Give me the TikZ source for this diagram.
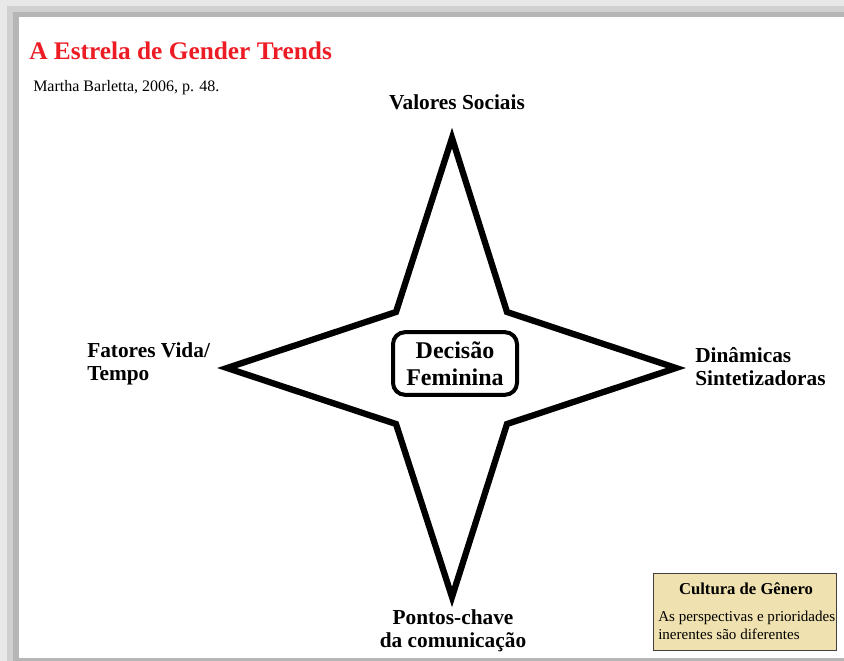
\documentclass[tikz,border=0pt]{standalone}
\usepackage{fontspec}
\setmainfont{Liberation Serif}
\definecolor{titlered}{RGB}{237,28,36}
\definecolor{legendfill}{RGB}{240,226,176}
\definecolor{frameA}{RGB}{232,232,232}
\definecolor{frameB}{RGB}{208,208,208}
\definecolor{frameC}{RGB}{182,182,182}

\begin{document}
\begin{tikzpicture}
	[
		x=0.75pt, y=-0.75pt,
		arm/.style={font=\bfseries\fontsize{16}{17.25}\selectfont, inner sep=0pt},
		hub/.style={draw, line width=3pt, rounded corners=9pt, align=center, minimum width=93pt, minimum height=47pt, inner sep=0pt, fill=white, font=\bfseries\fontsize{18}{20.25}\selectfont},
		legend/.style={draw=black!75, fill=legendfill, line width=0.75pt, minimum width=137.25pt, minimum height=57.75pt, inner sep=0pt},
		small/.style={inner sep=0pt, font=\fontsize{11.3}{13.5}\selectfont}
	]

	\useasboundingbox (0,0) rectangle (844,661);

	% page and its shadow
	\fill[frameA] (0,0) rectangle (844,661);
	\fill[frameB] (7,6) rectangle (844,661);
	\fill[frameC] (13,12) rectangle (844,661);
	\fill[white] (19,17) rectangle (844,658);

	\node
	[anchor=base west, inner sep=0pt, text=titlered, font=\bfseries\fontsize{19}{22}\selectfont]
	(titulo) at (29,59)
	{A Estrela de Gender Trends};

	\node
	[anchor=base west, inner sep=0pt, font=\fontsize{12}{14}\selectfont]
	(fonte) at (33,91)
	{Martha Barletta, 2006, p. 48.};

	% the star
	\coordinate (top) at (452,138);
	\coordinate (right) at (676,368);
	\coordinate (bottom) at (452,597);
	\coordinate (left) at (227,368);
	\coordinate (ur) at (507,312);
	\coordinate (lr) at (507,424);
	\coordinate (ll) at (396,424);
	\coordinate (ul) at (396,312);

	\draw[line width=4.7pt]
		(top) -- (ur) -- (right) -- (lr) -- (bottom) -- (ll) -- (left) -- (ul) -- cycle;

	\node
	[hub]
	(decisao) at (455,363.5)
	{Decisão\\Feminina};

	\node
	[arm, anchor=base]
	(valores) at (457,109)
	{Valores Sociais};

	\node
	[arm, anchor=west, align=left]
	(fatores) at (87,364)
	{Fatores Vida/\\Tempo};

	\node
	[arm, anchor=west, align=left]
	(dinamicas) at (695,367)
	{Dinâmicas\\Sintetizadoras};

	\node
	[arm, align=center]
	(pontos) at (453,631)
	{Pontos-chave\\da comunicação};

	% legend
	\node
	[legend, anchor=north west]
	(cultura) at (653,573)
	{};

	\node
	[anchor=base, inner sep=0pt, font=\bfseries\fontsize{12.5}{14}\selectfont]
	(culturatitulo) at (746,594)
	{Cultura de Gênero};

	\node
	[small, anchor=west, align=left]
	(culturatexto) at (658,625)
	{As perspectivas e prioridades\\inerentes são diferentes};

\end{tikzpicture}
\end{document}
